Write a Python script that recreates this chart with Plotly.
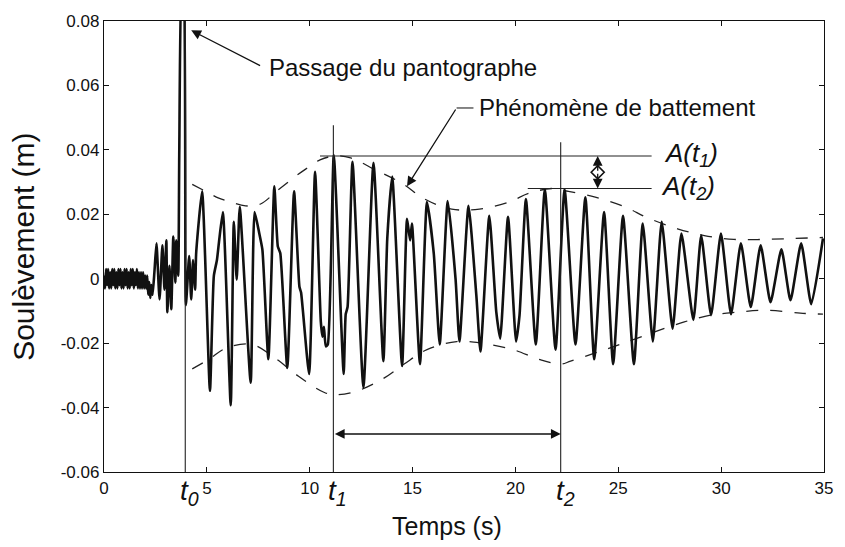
import plotly.graph_objects as go

# ---------------- data ----------------
signal_t = [0.00, 0.05, 0.10, 0.15, 0.20, 0.25, 0.30, 0.35, 0.40, 0.45,
            0.50, 0.55, 0.60, 0.65, 0.70, 0.75, 0.80, 0.85, 0.90, 0.95,
            1.00, 1.05, 1.10, 1.15, 1.20, 1.25, 1.30, 1.35, 1.40, 1.45,
            1.50, 1.55, 1.60, 1.65, 1.70, 1.75, 1.80, 1.85, 1.90, 1.95,
            2.00, 2.05, 2.10, 2.15, 2.20, 2.25, 2.30, 2.36, 2.45,
            2.55, 2.70, 2.84, 2.94, 3.03, 3.08, 3.18, 3.27, 3.37, 3.47,
            3.51, 3.61, 3.66, 3.80, 3.85, 3.98, 4.14, 4.24, 4.33, 4.43,
            4.48, 4.77, 5.15, 5.34, 5.49, 5.60, 5.78, 6.16, 6.31, 6.45,
            6.60, 7.13, 7.32, 7.55, 7.70, 7.99, 8.28, 8.45, 8.57, 8.91,
            9.24, 9.50, 9.58, 9.97, 10.26, 10.54, 10.62, 10.69, 10.78, 10.88,
            11.17, 11.65, 11.75, 11.84, 12.08, 12.61, 13.10, 13.58, 13.77, 14.01,
            14.49, 14.73, 14.88, 14.97, 15.36, 15.70, 16.03, 16.32, 16.71, 17.09,
            17.28, 17.72, 18.10, 18.30, 18.73, 19.07, 19.26, 19.64, 20.03, 20.20,
            20.51, 20.99, 21.43, 21.95, 22.39, 22.92, 23.40, 23.83, 24.31, 24.75,
            25.23, 25.76, 26.19, 26.68, 27.11, 27.64, 28.07, 28.65, 29.03, 29.51,
            29.99, 30.48, 30.96, 31.44, 31.92, 32.40, 32.93, 33.37, 33.89, 34.38,
            34.95]
signal_v = [0.001, -0.003, 0.003, -0.002, 0.003, -0.003, 0.002, -0.003, 0.003, -0.002,
            0.003, -0.003, 0.002, -0.003, 0.003, -0.002, 0.003, -0.003, 0.002, -0.003,
            0.003, -0.002, 0.003, -0.003, 0.002, -0.003, 0.003, -0.002, 0.003, -0.003,
            0.002, -0.002, 0.003, -0.003, 0.002, -0.003, 0.002, -0.003, 0.002, -0.003,
            0.001, -0.003, 0.001, -0.005, -0.001, -0.006, -0.002, -0.005, 0.002,
            0.0110, -0.0064, 0.0104, -0.0034, 0.0119, -0.0104, 0.0040, -0.0095, 0.0131, -0.0012,
            0.0119, 0.0009, 0.0400, 0.0950, 0.0950, -0.0082, 0.0070, -0.0064, 0.0058, -0.0034,
            0.0079, 0.0271, -0.0348, 0.0009, 0.0058, 0.0120, 0.0207, -0.0393, 0.0177, -0.0003,
            0.0223, -0.0323, 0.0207, 0.0140, 0.0090, -0.0250, 0.0287, 0.0100, 0.0079, -0.0277,
            0.0271, -0.0025, -0.0043, -0.0296, 0.0332, -0.0134, -0.0180, -0.0149, -0.0210, -0.0204,
            0.0384, -0.0296, -0.0110, -0.0088, 0.0363, -0.0338, 0.0360, -0.0256, 0.0125, 0.0317,
            -0.0271, 0.0186, 0.0119, 0.0171, -0.0265, 0.0238, 0.0079, -0.0204, 0.0241, -0.0001,
            -0.0195, 0.0226, -0.0052, -0.0226, 0.0195, -0.0104, -0.0186, 0.0192, -0.0195, -0.0113,
            0.0247, -0.0204, 0.0277, -0.0220, 0.0277, -0.0204, 0.0253, -0.0250, 0.0207, -0.0265,
            0.0195, -0.0265, 0.0171, -0.0195, 0.0177, -0.0155, 0.0140, -0.0128, 0.0134, -0.0113,
            0.0140, -0.0110, 0.0110, -0.0088, 0.0104, -0.0073, 0.0091, -0.0067, 0.0110, -0.0079,
            0.0125]

env_up_t = [4.29, 4.86, 5.58, 6.16, 6.88, 7.61, 8.38, 9.29, 9.82, 10.50, 11.22, 11.99,
            13.19, 14.49, 15.60, 16.90, 18.25, 19.69, 20.65, 21.81, 22.58, 23.88, 25.32,
            26.43, 27.88, 29.18, 30.62, 32.07, 33.51, 34.95]
env_up_v = [0.0293, 0.0274, 0.0250, 0.0238, 0.0226, 0.0232, 0.0271, 0.0317, 0.0341, 0.0369,
            0.0381, 0.0375, 0.0338, 0.0296, 0.0247, 0.0216, 0.0216, 0.0238, 0.0265, 0.0280,
            0.0271, 0.0253, 0.0223, 0.0189, 0.0155, 0.0134, 0.0122, 0.0122, 0.0125, 0.0128]
env_lo_t = [4.29, 5.10, 5.92, 7.17, 8.33, 9.44, 10.74, 11.36, 12.33, 13.63, 14.59, 15.70,
            17.14, 18.44, 19.88, 21.14, 22.20, 22.68, 24.22, 25.47, 26.77, 28.21, 29.51,
            30.77, 32.21, 33.85, 34.95]
env_lo_v = [-0.0280, -0.0250, -0.0216, -0.0204, -0.0247, -0.0302, -0.0354, -0.0360, -0.0348,
            -0.0308, -0.0265, -0.0220, -0.0195, -0.0201, -0.0220, -0.0250, -0.0265, -0.0256,
            -0.0223, -0.0195, -0.0165, -0.0134, -0.0113, -0.0104, -0.0098, -0.0107, -0.0110]

t0, t1, t2 = 3.95, 11.15, 22.20
A1, A2 = 0.0381, 0.0280

x_ticks = [0, 5, 10, 15, 20, 25, 30, 35]
y_ticks = [0.08, 0.06, 0.04, 0.02, 0, -0.02, -0.04, -0.06]
y_tick_text = ["0.08", "0.06", "0.04", "0.02", "0", "-0.02", "-0.04", "-0.06"]

FONT = "Liberation Sans, Arial, Helvetica, sans-serif"
INK = "#111111"

fig = go.Figure()

dash = "12px,12px"
fig.add_trace(go.Scatter(x=env_up_t, y=env_up_v, mode="lines",
                         line=dict(color="#222222", width=1.3, dash=dash, shape="spline"),
                         hoverinfo="skip"))
fig.add_trace(go.Scatter(x=env_lo_t, y=env_lo_v, mode="lines",
                         line=dict(color="#222222", width=1.3, dash=dash, shape="spline"),
                         hoverinfo="skip"))
fig.add_trace(go.Scatter(x=signal_t, y=signal_v, mode="lines",
                         line=dict(color=INK, width=2.6, shape="spline", smoothing=0.5),
                         hoverinfo="skip"))

# diamond in the middle of the amplitude arrow
fig.add_trace(go.Scatter(x=[24.0], y=[(A1 + A2) / 2], mode="markers",
                         marker=dict(symbol="diamond-open", size=10, color=INK,
                                     line=dict(width=1.6, color=INK)), hoverinfo="skip"))

thin = dict(color="#222222", width=1.1)
shapes = [
    dict(type="line", x0=t0, x1=t0, y0=-0.06, y1=0.08, line=thin),
    dict(type="line", x0=t1, x1=t1, y0=-0.06, y1=0.0476, line=thin),
    dict(type="line", x0=t2, x1=t2, y0=-0.06, y1=0.0424, line=thin),
    dict(type="line", x0=10.5, x1=26.62, y0=A1, y1=A1, line=thin),
    dict(type="line", x0=20.6, x1=26.62, y0=A2, y1=A2, line=thin),
    dict(type="line", x0=17.14, x1=17.96, y0=0.0530, y1=0.0530, line=thin),
]

arrow = dict(showarrow=True, arrowhead=2, arrowsize=1.5, arrowwidth=1.3,
             arrowcolor=INK, axref="x", ayref="y", text="")
annotations = [
    # Passage du pantographe
    dict(x=4.24, y=0.0771, ax=7.66, ay=0.0659, **arrow),
    dict(x=7.90, y=0.0655, xanchor="left", yanchor="middle", showarrow=False,
         text="Passage du pantographe", font=dict(family=FONT, size=24, color=INK)),
    # Phénomène de battement
    dict(x=14.73, y=0.0287, ax=17.14, ay=0.0530, **arrow),
    dict(x=18.15, y=0.0532, xanchor="left", yanchor="middle", showarrow=False,
         text="Phénomène de battement", font=dict(family=FONT, size=24, color=INK)),
    # amplitude arrows
    dict(x=24.0, y=A1, ax=24.0, ay=(A1 + A2) / 2, **arrow),
    dict(x=24.0, y=A2, ax=24.0, ay=(A1 + A2) / 2, **arrow),
    dict(x=27.11, y=0.0386, xanchor="left", yanchor="middle", showarrow=False,
         text="<i>A(t<sub>1</sub>)</i>", font=dict(family=FONT, size=26, color=INK)),
    dict(x=26.96, y=0.0283, xanchor="left", yanchor="middle", showarrow=False,
         text="<i>A(t<sub>2</sub>)</i>", font=dict(family=FONT, size=26, color=INK)),
    # time span arrow
    dict(x=t2, y=-0.0482, ax=t1, ay=-0.0482, arrowside="end+start", **arrow),
    # t0 t1 t2 labels
    dict(x=t0, y=-0.0455, xref="x", yref="paper", xanchor="left", yanchor="middle",
         xshift=-7, showarrow=False, text="<i>t<sub>0</sub></i>",
         font=dict(family=FONT, size=28, color=INK)),
    dict(x=t1, y=-0.0455, xref="x", yref="paper", xanchor="left", yanchor="middle",
         xshift=-7, showarrow=False, text="<i>t<sub>1</sub></i>",
         font=dict(family=FONT, size=28, color=INK)),
    dict(x=t2, y=-0.0455, xref="x", yref="paper", xanchor="left", yanchor="middle",
         xshift=-7, showarrow=False, text="<i>t<sub>2</sub></i>",
         font=dict(family=FONT, size=28, color=INK)),
    # axis titles
    dict(x=0.476, y=-0.12, xref="paper", yref="paper", xanchor="center", yanchor="middle",
         showarrow=False, text="Temps (s)", font=dict(family=FONT, size=25, color=INK)),
    dict(x=-0.112, y=0.50, xref="paper", yref="paper", xanchor="center", yanchor="middle",
         showarrow=False, text="Soulèvement (m)", textangle=-90,
         font=dict(family=FONT, size=30, color=INK)),
]

axis_common = dict(showgrid=False, zeroline=False, showline=True, linecolor=INK,
                   linewidth=1.4, mirror="ticks", ticks="inside", ticklen=5,
                   tickcolor=INK, tickwidth=1,
                   tickfont=dict(family=FONT, size=17, color=INK))

fig.update_layout(
    width=845, height=547,
    margin=dict(l=104, r=14, t=13, b=75),
    paper_bgcolor="white", plot_bgcolor="white",
    showlegend=False,
    shapes=shapes, annotations=annotations,
    xaxis=dict(range=[0, 35], tickvals=x_ticks, **axis_common),
    yaxis=dict(range=[-0.06, 0.08], tickvals=y_ticks, ticktext=y_tick_text, **axis_common),
)

fig.write_html("out.html")
